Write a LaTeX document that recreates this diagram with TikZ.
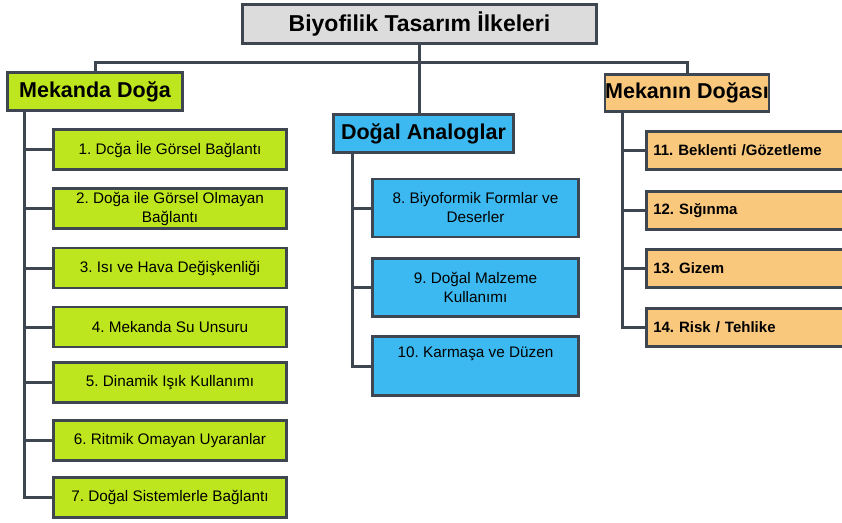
\documentclass[tikz,border=0pt]{standalone}
\usepackage{fontspec}
\setmainfont{Liberation Sans}
\frenchspacing
\definecolor{cizgi}{HTML}{3D4651}
\definecolor{gri}{HTML}{DCDCDC}
\definecolor{yesil}{HTML}{BEE61E}
\definecolor{mavi}{HTML}{3CB9F0}
\definecolor{turuncu}{HTML}{FAC87D}
\tikzset{
  kutu/.style={draw=cizgi, line width=2.6pt, rectangle, inner sep=0pt, text=black},
  baslik/.style={kutu, font=\fontsize{21.5}{24}\selectfont\bfseries, minimum height=38pt},
  ymadde/.style={kutu, fill=yesil, font=\fontsize{15.3}{19}\selectfont, align=center,
                 minimum width=233pt, minimum height=40pt},
  mmadde/.style={kutu, fill=mavi, font=\fontsize{15.3}{19}\selectfont, align=center,
                 minimum width=206pt, minimum height=58pt},
  tmadde/.style={kutu, fill=turuncu, font=\fontsize{15}{19}\selectfont\bfseries, align=left,
                 text width=200pt, inner xsep=7pt, minimum height=38pt, anchor=west},
  hat/.style={draw=cizgi, line width=3pt}
}
\begin{document}
\begin{tikzpicture}[x=1pt, y=-1pt]
  \useasboundingbox (0,0) rectangle (842,522);
  \clip (0,0) rectangle (842,522);

  % ust kutu ve ana basliklar
  \node[kutu, fill=gri, font=\fontsize{23}{26}\selectfont\bfseries,
        minimum width=354pt, minimum height=39pt] (ust) at (419.5,24) {Biyofilik Tasarım İlkeleri};
  \node[baslik, fill=yesil, minimum width=175pt] (ana1) at (95,91.5) {Mekanda Doğa};
  \node[baslik, fill=mavi, minimum width=180pt] (ana2) at (423.5,133.5) {Doğal Analoglar};
  \node[baslik, fill=turuncu, minimum width=163pt, minimum height=37pt] (ana3) at (687,93) {Mekanın Doğası};

  \coordinate (bus) at (420,62);
  \draw[hat] (ust.south) -- (ust.south |- ana2.north);
  \draw[hat] (ana1.north) |- (bus) -| (ana3.north);

  % Mekanda Doga
  \node[ymadde] (y1) at (170,149.5) {1. Dcğa İle Görsel Bağlantı};
  \node[ymadde] (y2) at (170,208.5) {2. Doğa ile Görsel Olmayan\\Bağlantı};
  \node[ymadde] (y3) at (170,268) {3. Isı ve Hava Değişkenliği};
  \node[ymadde] (y4) at (170,327) {4. Mekanda Su Unsuru};
  \node[ymadde] (y5) at (170,382.5) {5. Dinamik Işık Kullanımı};
  \node[ymadde] (y6) at (170,440.5) {6. Ritmik Omayan Uyaranlar};
  \node[ymadde] (y7) at (170,497.5) {7. Doğal Sistemlerle Bağlantı};

  \draw[hat] ([xshift=-71pt]ana1.south) |- (y1.west);
  \draw[hat] ([xshift=-71pt]ana1.south) |- (y2.west);
  \draw[hat] ([xshift=-71pt]ana1.south) |- (y3.west);
  \draw[hat] ([xshift=-71pt]ana1.south) |- (y4.west);
  \draw[hat] ([xshift=-71pt]ana1.south) |- (y5.west);
  \draw[hat] ([xshift=-71pt]ana1.south) |- (y6.west);
  \draw[hat] ([xshift=-71pt]ana1.south) |- (y7.west);

  % Dogal Analoglar
  \node[mmadde] (m8) at (475.5,208) {8. Biyoformik Formlar ve\\Deserler};
  \node[mmadde] (m9) at (475.5,287.5) {9. Doğal Malzeme\\Kullanımı};
  \node[mmadde, minimum height=59pt] (m10) at (475.5,366) {10. Karmaşa ve Düzen\\[8pt]\mbox{}};

  \draw[hat] ([xshift=-71.5pt]ana2.south) |- (m8.west);
  \draw[hat] ([xshift=-71.5pt]ana2.south) |- (m9.west);
  \draw[hat] ([xshift=-71.5pt]ana2.south) |- (m10.west);

  % Mekanin Dogasi
  \node[tmadde] (t11) at (645,150.5) {11. Beklenti /Gözetleme};
  \node[tmadde] (t12) at (645,210.5) {12. Sığınma};
  \node[tmadde] (t13) at (645,268.5) {13. Gizem};
  \node[tmadde] (t14) at (645,327.5) {14. Risk / Tehlike};

  \draw[hat] ([xshift=-65pt]ana3.south) |- (t11.west);
  \draw[hat] ([xshift=-65pt]ana3.south) |- (t12.west);
  \draw[hat] ([xshift=-65pt]ana3.south) |- (t13.west);
  \draw[hat] ([xshift=-65pt]ana3.south) |- (t14.west);
\end{tikzpicture}
\end{document}
